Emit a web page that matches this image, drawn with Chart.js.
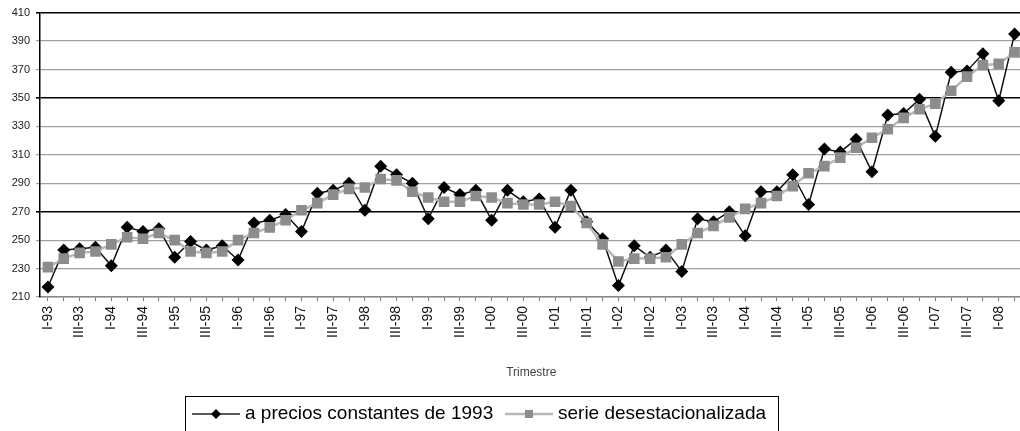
<!DOCTYPE html>
<html lang="es">
<head>
  <meta charset="UTF-8">
  <title>Trimestre</title>
  <script src="https://cdn.jsdelivr.net/npm/chart.js"></script>
  <style>
    html, body { margin: 0; padding: 0; background: #fff; overflow: hidden; }
    #wrap { width: 1030px; height: 431px; position: relative; }
  </style>
</head>
<body>
  <div id="wrap"><canvas id="chart"></canvas></div>

  <script>
    // quarters I-93 .. II-08
    const quarters = [
      'I-93','II-93','III-93','IV-93','I-94','II-94','III-94','IV-94',
      'I-95','II-95','III-95','IV-95','I-96','II-96','III-96','IV-96',
      'I-97','II-97','III-97','IV-97','I-98','II-98','III-98','IV-98',
      'I-99','II-99','III-99','IV-99','I-00','II-00','III-00','IV-00',
      'I-01','II-01','III-01','IV-01','I-02','II-02','III-02','IV-02',
      'I-03','II-03','III-03','IV-03','I-04','II-04','III-04','IV-04',
      'I-05','II-05','III-05','IV-05','I-06','II-06','III-06','IV-06',
      'I-07','II-07','III-07','IV-07','I-08','II-08'
    ];

    const preciosConstantes = [
      217, 243, 244, 245, 232, 259, 256, 258, 238, 249, 243, 246,
      236, 262, 264, 268, 256, 283, 285, 290, 271, 302, 296, 290,
      265, 287, 282, 285, 264, 285, 277, 279, 259, 285, 263, 251,
      218, 246, 238, 243, 228, 265, 263, 270, 253, 284, 284, 296,
      275, 314, 312, 321, 298, 338, 339, 349, 323, 368, 369, 381,
      348, 395
    ];

    const desestacionalizada = [
      231, 237, 241, 242, 247, 252, 251, 255, 250, 242, 241, 242,
      250, 255, 259, 264, 271, 276, 282, 286, 287, 293, 292, 284,
      280, 277, 277, 281, 280, 276, 275, 275, 277, 274, 262, 247,
      235, 237, 237, 238, 247, 255, 260, 266, 272, 276, 281, 288,
      297, 302, 308, 315, 322, 328, 336, 342, 346, 355, 365, 373,
      374, 382
    ];

    const seriesNames = ['a precios constantes de 1993', 'serie desestacionalizada'];
    const darkGridValues = [410, 350, 270];

    const FONT = "'Liberation Sans', Arial, sans-serif";

    // legend with a frame, line sample + marker like the original
    const boxLegend = {
      id: 'boxLegend',
      afterDraw(chart) {
        const ctx = chart.ctx;
        const top = 396;
        const left = 185, right = 778;
        ctx.save();
        ctx.strokeStyle = '#000';
        ctx.lineWidth = 1;
        ctx.strokeRect(left + 0.5, top + 0.5, right - left, 60);

        const cy = top + 18;
        const items = [
          { x: 192, text: seriesNames[0], line: '#222', lw: 1.5, mark: 'diamond', fill: '#000' },
          { x: 505, text: seriesNames[1], line: '#b8b8b8', lw: 2.5, mark: 'square', fill: '#8c8c8c' }
        ];
        items.forEach(it => {
          ctx.strokeStyle = it.line;
          ctx.lineWidth = it.lw;
          ctx.beginPath();
          ctx.moveTo(it.x, cy);
          ctx.lineTo(it.x + 48, cy);
          ctx.stroke();
          const mx = it.x + 24;
          ctx.fillStyle = it.fill;
          ctx.beginPath();
          if (it.mark === 'diamond') {
            ctx.moveTo(mx, cy - 5); ctx.lineTo(mx + 5, cy);
            ctx.lineTo(mx, cy + 5); ctx.lineTo(mx - 5, cy);
            ctx.closePath();
          } else {
            ctx.rect(mx - 4, cy - 4, 8, 8);
          }
          ctx.fill();
          ctx.fillStyle = '#000';
          ctx.font = '19px ' + FONT;
          ctx.textBaseline = 'middle';
          ctx.textAlign = 'left';
          ctx.fillText(it.text, it.x + 53, cy);
        });
        ctx.restore();
      }
    };

    new Chart(document.getElementById('chart'), {
      type: 'line',
      data: {
        labels: quarters,
        datasets: [
          {
            label: seriesNames[0],
            data: preciosConstantes,
            borderColor: '#111',
            borderWidth: 1.5,
            pointStyle: 'rectRot',
            pointRadius: 6.5,
            pointBackgroundColor: '#000',
            pointBorderColor: '#000',
            pointBorderWidth: 0,
            tension: 0,
            order: 1
          },
          {
            label: seriesNames[1],
            data: desestacionalizada,
            borderColor: '#b8b8b8',
            borderWidth: 2.5,
            pointStyle: 'rect',
            pointRadius: 7.5,
            pointBackgroundColor: '#8c8c8c',
            pointBorderColor: '#8c8c8c',
            pointBorderWidth: 0,
            tension: 0,
            order: 0
          }
        ]
      },
      options: {
        responsive: true,
        maintainAspectRatio: false,
        animation: false,
        layout: { padding: { top: 12, right: 1, bottom: 51, left: 0 } },
        plugins: {
          legend: { display: false },
          tooltip: { enabled: false }
        },
        scales: {
          x: {
            offset: true,
            grid: {
              drawOnChartArea: false,
              drawTicks: true,
              tickLength: 4,
              color: '#777'
            },
            border: { display: true, color: '#888', width: 1.5 },
            ticks: {
              autoSkip: false,
              maxRotation: 90,
              minRotation: 90,
              color: '#111',
              padding: 5,
              font: { family: FONT, size: 14 },
              callback: function (v, i) { return i % 2 === 0 ? this.getLabelForValue(v) : ''; }
            },
            title: {
              display: true,
              text: 'Trimestre',
              color: '#444',
              font: { family: FONT, size: 12 },
              padding: { top: 4, bottom: 0 }
            },
            afterFit(scale) {
              scale.height = 83;
              scale.paddingLeft = 0;
              scale.paddingRight = 0;
            }
          },
          y: {
            min: 210,
            max: 410,
            ticks: {
              stepSize: 20,
              color: '#222',
              padding: 6,
              font: { family: FONT, size: 11 }
            },
            grid: {
              color: c => darkGridValues.includes(c.tick.value) ? '#000' : '#a0a0a0',
              lineWidth: c => darkGridValues.includes(c.tick.value) ? 1.6 : 1.2,
              tickLength: 4
            },
            border: { display: true, color: '#000', width: 1.5 },
            afterFit(scale) { scale.width = 40; }
          }
        }
      },
      plugins: [boxLegend]
    });
  </script>
</body>
</html>
